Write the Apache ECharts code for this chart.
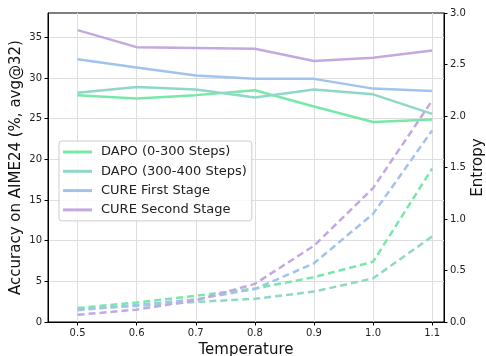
<!DOCTYPE html>
<html>
<head>
<meta charset="utf-8">
<script src="https://cdn.jsdelivr.net/npm/echarts@6/dist/echarts.min.js"></script>
<style>
  html, body { margin: 0; padding: 0; background: #fff; }
  #chart { width: 486px; height: 356px; }
</style>
</head>
<body>
<div id="chart"></div>
<script>
// temperatures on the x axis
const temps = [0.5, 0.6, 0.7, 0.8, 0.9, 1.0, 1.1];
const xTicks = [0.5, 0.6, 0.7, 0.8, 0.9, 1.0, 1.1];
const accTicks = [0, 5, 10, 15, 20, 25, 30, 35];

// accuracy (left axis, solid)
const accDapo0300 = [27.9, 27.5, 27.9, 28.5, 26.5, 24.6, 24.9];
const accDapo300400 = [28.2, 28.9, 28.6, 27.6, 28.6, 28.0, 25.6];
const accCure1 = [32.3, 31.3, 30.3, 29.9, 29.9, 28.7, 28.4];
const accCure2 = [35.9, 33.8, 33.7, 33.6, 32.1, 32.5, 33.4];

// entropy (right axis, dashed)
const entDapo0300 = [0.135, 0.19, 0.255, 0.325, 0.435, 0.585, 1.49];
const entDapo300400 = [0.125, 0.155, 0.195, 0.225, 0.295, 0.424, 0.83];
const entCure1 = [0.115, 0.165, 0.22, 0.32, 0.57, 1.05, 1.86];
const entCure2 = [0.07, 0.12, 0.21, 0.37, 0.74, 1.30, 2.15];

const names = ["DAPO (0-300 Steps)", "DAPO (300-400 Steps)", "CURE First Stage", "CURE Second Stage"];
const colors = ["#78e8a8", "#8fd8c8", "#a0c4ee", "#c4a8e0"];

const font = "DejaVu Sans";
const pair = (ys) => temps.map((t, i) => [t, ys[i]]);

const solid = [accDapo0300, accDapo300400, accCure1, accCure2].map((ys, i) => ({
  name: names[i],
  type: "line",
  yAxisIndex: 0,
  data: pair(ys),
  symbol: "none",
  lineStyle: { color: colors[i], width: 2.5 },
  itemStyle: { color: colors[i] },
  z: 2,
}));

const dashed = [entDapo0300, entDapo300400, entCure1, entCure2].map((ys, i) => ({
  name: names[i] + " entropy",
  type: "line",
  yAxisIndex: 1,
  data: pair(ys),
  symbol: "none",
  lineStyle: { color: colors[i], width: 2.5, type: [7, 4] },
  itemStyle: { color: colors[i] },
  z: 3,
}));

const chart = echarts.init(document.getElementById("chart"), null, { renderer: "canvas" });

chart.setOption({
  animation: false,
  grid: {
    left: 48, right: 42, top: 13, bottom: 34,
    outerBoundsMode: "none",
    containLabel: false,
    show: true, borderColor: "#000", borderWidth: 1,
  },
  legend: {
    data: names.map((n, i) => ({ name: n, icon: "rect", itemStyle: { color: colors[i] } })),
    orient: "vertical",
    left: 59, top: 141,
    itemWidth: 29, itemHeight: 3, itemGap: 4.3,
    padding: [3.5, 5, 3.5, 4],
    backgroundColor: "rgba(255,255,255,0.8)",
    borderColor: "#cccccc", borderWidth: 1, borderRadius: 3,
    textStyle: { fontFamily: font, fontSize: 13, color: "#222", lineHeight: 15, padding: [0, 0, 0, 4] },
    z: 10,
  },
  xAxis: {
    type: "value",
    min: 0.45, max: 1.12,
    name: "Temperature",
    nameLocation: "middle",
    nameGap: 21,
    nameMoveOverlap: false,
    nameTextStyle: { fontFamily: font, fontSize: 15, color: "#111" },
    axisLine: { show: true, lineStyle: { color: "#000", width: 1 } },
    axisTick: { show: true, inside: false, length: 3.5, lineStyle: { color: "#000" }, customValues: xTicks },
    axisLabel: {
      customValues: xTicks, margin: 6,
      fontFamily: font, fontSize: 10, color: "#222",
      formatter: (v) => v.toFixed(1),
    },
    splitLine: { show: true, lineStyle: { color: "#dedede", width: 1 } },
  },
  yAxis: [
    {
      type: "value",
      min: 0, max: 38,
      position: "left",
      name: "Accuracy on AIME24 (%, avg@32)",
      nameLocation: "middle",
      nameRotate: 90,
      nameGap: 24,
      nameMoveOverlap: false,
      nameTextStyle: { fontFamily: font, fontSize: 15, color: "#111" },
      axisLine: { show: true, lineStyle: { color: "#000" } },
      axisTick: { show: true, length: 3.5, lineStyle: { color: "#000" }, customValues: accTicks },
      axisLabel: { customValues: accTicks, margin: 6, fontFamily: font, fontSize: 10, color: "#222" },
      splitLine: { show: true, lineStyle: { color: "#dedede", width: 1 } },
    },
    {
      type: "value",
      min: 0, max: 3, interval: 0.5,
      position: "right",
      name: "Entropy",
      nameLocation: "middle",
      nameRotate: 90,
      nameGap: 27,
      nameMoveOverlap: false,
      nameTextStyle: { fontFamily: font, fontSize: 15, color: "#111" },
      axisLine: { show: true, lineStyle: { color: "#000" } },
      axisTick: { show: true, length: 3.5, lineStyle: { color: "#000" } },
      axisLabel: { margin: 6, fontFamily: font, fontSize: 10, color: "#222", formatter: (v) => v.toFixed(1) },
      splitLine: { show: false },
    },
  ],
  series: [...solid, ...dashed],
});
</script>
</body>
</html>
